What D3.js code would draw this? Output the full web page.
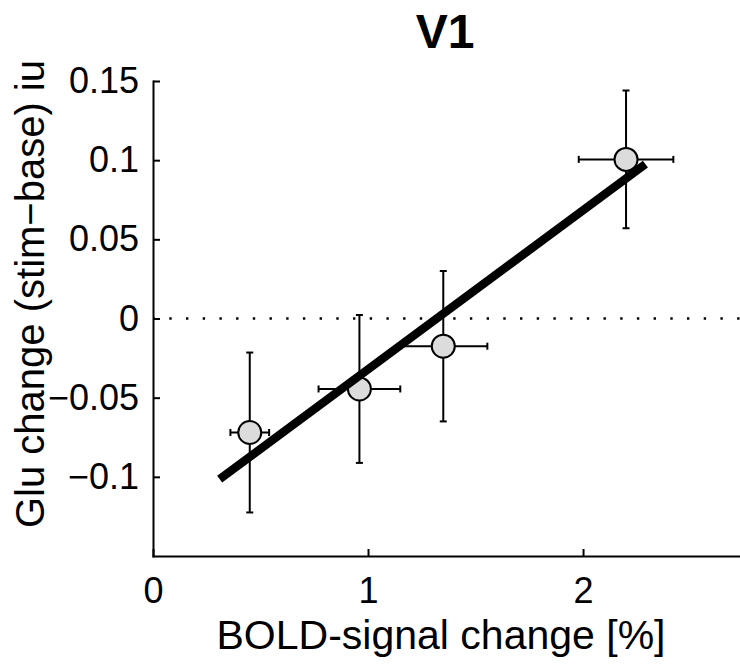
<!DOCTYPE html>
<html>
<head>
<meta charset="utf-8">
<script src="https://cdn.jsdelivr.net/npm/d3@7"></script>
<style>
    body { margin: 0; background: #fff; }
    svg { display: block; font-family: "Liberation Sans", Arial, sans-serif; }
</style>
</head>
<body>
<div id="chart"></div>
<script>
// data
const boldX = [0.45, 0.96, 1.35, 2.20];
const boldErr = [0.09, 0.19, 0.205, 0.22];
const gluY = [-0.072, -0.0445, -0.0175, 0.1005];
const gluErr = [0.0505, 0.0467, 0.0475, 0.0435];

// regression line end points
const fitX = [0.31, 2.29];
const fitY = [-0.1015, 0.0975];

const xTicks = [0, 1, 2];
const yTicks = [-0.1, -0.05, 0, 0.05, 0.1, 0.15];
const yTickLabels = ['\u22120.1', '\u22120.05', '0', '0.05', '0.1', '0.15'];

const width = 740;
const height = 665;

const svg = d3.select('#chart')
    .append('svg')
    .attr('width', width)
    .attr('height', height);

const x = d3.scaleLinear()
    .domain([0, 2.73])
    .range([153, 740]);

const y = d3.scaleLinear()
    .domain([-0.15, 0.15])
    .range([556, 81]);

// zero reference line (dotted)
svg.append('line')
    .attr('x1', x(0))
    .attr('x2', x(2.73))
    .attr('y1', y(0))
    .attr('y2', y(0))
    .attr('stroke', '#000')
    .attr('stroke-width', 2.4)
    .attr('stroke-dasharray', '2.4,14.3')
    .attr('stroke-dashoffset', -16.3);

// axes
const xAxis = d3.axisBottom(x)
    .tickValues(xTicks)
    .tickFormat(d3.format('d'))
    .tickSizeInner(-7)
    .tickSizeOuter(0)
    .tickPadding(21);

const yAxis = d3.axisLeft(y)
    .tickValues(yTicks)
    .tickFormat((d, i) => yTickLabels[i])
    .tickSizeInner(-7)
    .tickSizeOuter(0)
    .tickPadding(14);

const gx = svg.append('g')
    .attr('transform', `translate(0,${y(-0.15)})`)
    .call(xAxis);

const gy = svg.append('g')
    .attr('transform', `translate(${x(0)},0)`)
    .call(yAxis);

[gx, gy].forEach(g => {
    g.select('.domain').attr('stroke-width', 2).attr('stroke-linecap', 'square');
    g.selectAll('.tick line').attr('stroke-width', 2);
    g.selectAll('.tick text')
        .attr('font-family', '"Liberation Sans", Arial, sans-serif')
        .attr('font-size', 36)
        .attr('fill', '#000');
});

// error bars
const pts = boldX.map((bx, i) => ({ x: bx, y: gluY[i], ex: boldErr[i], ey: gluErr[i] }));
const cap = 3.5;
const bars = svg.append('g')
    .attr('stroke', '#000')
    .attr('stroke-width', 2)
    .attr('fill', 'none');

pts.forEach(p => {
    const cx = x(p.x), cy = y(p.y);
    // vertical
    bars.append('line').attr('x1', cx).attr('x2', cx).attr('y1', y(p.y - p.ey)).attr('y2', y(p.y + p.ey));
    bars.append('line').attr('x1', cx - cap).attr('x2', cx + cap).attr('y1', y(p.y - p.ey)).attr('y2', y(p.y - p.ey));
    bars.append('line').attr('x1', cx - cap).attr('x2', cx + cap).attr('y1', y(p.y + p.ey)).attr('y2', y(p.y + p.ey));
    // horizontal
    bars.append('line').attr('x1', x(p.x - p.ex)).attr('x2', x(p.x + p.ex)).attr('y1', cy).attr('y2', cy);
    bars.append('line').attr('x1', x(p.x - p.ex)).attr('x2', x(p.x - p.ex)).attr('y1', cy - cap).attr('y2', cy + cap);
    bars.append('line').attr('x1', x(p.x + p.ex)).attr('x2', x(p.x + p.ex)).attr('y1', cy - cap).attr('y2', cy + cap);
});

// markers
svg.append('g')
    .selectAll('circle')
    .data(pts)
    .join('circle')
    .attr('cx', d => x(d.x))
    .attr('cy', d => y(d.y))
    .attr('r', 11.5)
    .attr('fill', '#dcdcdc')
    .attr('stroke', '#000')
    .attr('stroke-width', 2);

// fit line
const line = d3.line()
    .x(d => x(d[0]))
    .y(d => y(d[1]));

svg.append('path')
    .datum(fitX.map((fx, i) => [fx, fitY[i]]))
    .attr('d', line)
    .attr('fill', 'none')
    .attr('stroke', '#000')
    .attr('stroke-width', 8.5);

// title and axis labels
svg.append('text')
    .attr('x', 445)
    .attr('y', 48)
    .attr('text-anchor', 'middle')
    .attr('font-size', 48)
    .attr('font-weight', 'bold')
    .text('V1');

svg.append('text')
    .attr('x', 441)
    .attr('y', 649)
    .attr('text-anchor', 'middle')
    .attr('font-size', 41)
    .text('BOLD-signal change [%]');

svg.append('text')
    .attr('transform', 'translate(44,294) rotate(-90)')
    .attr('text-anchor', 'middle')
    .attr('font-size', 40)
    .text('Glu change (stim\u2212base) iu');
</script>
</body>
</html>
